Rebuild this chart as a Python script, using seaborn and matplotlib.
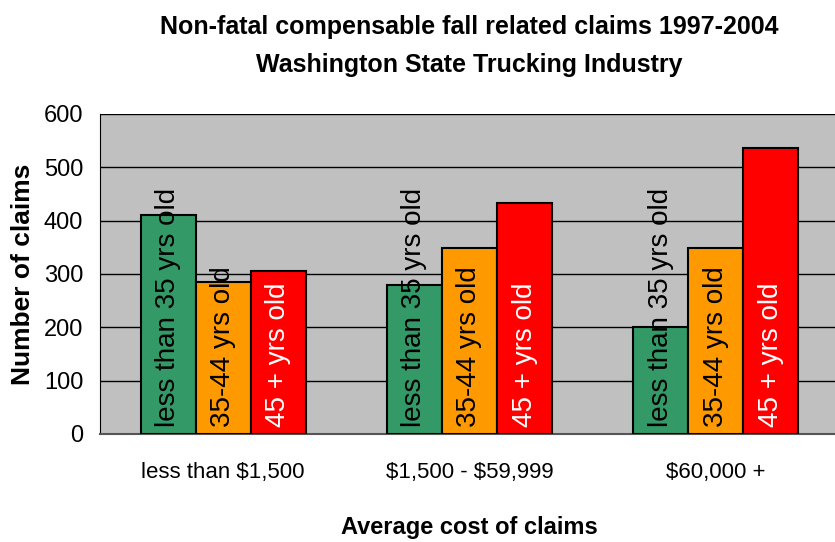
import matplotlib
matplotlib.use("Agg")
import matplotlib.pyplot as plt
from matplotlib.ticker import FixedLocator, NullFormatter
import seaborn as sns
import pandas as pd

categories = ["less than $1,500", "$1,500 - $59,999", "$60,000 +"]
age_groups = ["less than 35 yrs old", "35-44 yrs old", "45 + yrs old"]
under35 = [410, 280, 200]
age35_44 = [285, 348, 348]
over45 = [305, 433, 537]
colors = ["#339966", "#FF9900", "#FF0000"]
text_colors = ["black", "black", "white"]
yticks = [0, 100, 200, 300, 400, 500, 600]

rows = []
for series, name in zip([under35, age35_44, over45], age_groups):
    for c, v in zip(categories, series):
        rows.append({"cost": c, "age": name, "claims": v})
df = pd.DataFrame(rows)

sns.set_style("white")
fam = ["Liberation Sans", "DejaVu Sans"]
plt.rcParams["font.family"] = fam
plt.rcParams["text.color"] = "black"
plt.rcParams["axes.labelcolor"] = "black"
plt.rcParams["xtick.color"] = "black"
plt.rcParams["ytick.color"] = "black"

fig = plt.figure(figsize=(8.35, 5.42), dpi=100)
ax = fig.add_axes([100 / 835, 108 / 542, 739 / 835, 320 / 542])
ax.set_facecolor("#C0C0C0")

sns.barplot(data=df, x="cost", y="claims", hue="age", order=categories,
            hue_order=age_groups, palette=colors, edgecolor="black",
            linewidth=1.5, width=0.67, saturation=1, ax=ax, legend=False,
            zorder=3)

for cont, name, tc in zip(ax.containers, age_groups, text_colors):
    for bar in cont:
        x = bar.get_x() + bar.get_width() / 2
        ax.text(x, 14, name, rotation=90, ha="center", va="bottom",
                color=tc, fontsize=20, zorder=5)

ax.set_xlim(-0.5, 2.5)
ax.set_ylim(0, 600)
ax.set_yticks(yticks)
ax.set_xticks(range(len(categories)))
ax.set_xticklabels([c.replace("$", r"\$") for c in categories])
ax.yaxis.grid(True, color="black", linewidth=1)
ax.xaxis.grid(False)
ax.set_axisbelow(True)

ax.xaxis.set_minor_locator(FixedLocator([-0.5, 0.5, 1.5, 2.5]))
ax.xaxis.set_minor_formatter(NullFormatter())
ax.tick_params(axis="x", which="major", length=0, labelsize=16, pad=20)
ax.tick_params(axis="x", which="minor", length=8, width=1, color="#555555",
               direction="out")
ax.tick_params(axis="y", length=6, width=1, color="black", direction="out",
               labelsize=17, pad=6)

for s in ["top", "right"]:
    ax.spines[s].set_visible(False)
ax.spines["left"].set_color("black")
ax.spines["bottom"].set_color("#555555")
ax.spines["bottom"].set_linewidth(1.5)

ax.set_xlabel("Average cost of claims", fontsize=17, fontweight="bold", labelpad=24)
ax.set_ylabel("Number of claims", fontsize=19, fontweight="bold", labelpad=6)

fig.text(469 / 835, 1 - 46 / 542,
         "Non-fatal compensable fall related claims 1997-2004\nWashington State Trucking Industry",
         ha="center", va="center", fontsize=18, fontweight="bold", linespacing=1.75)

fig.savefig("out.png", dpi=100)
